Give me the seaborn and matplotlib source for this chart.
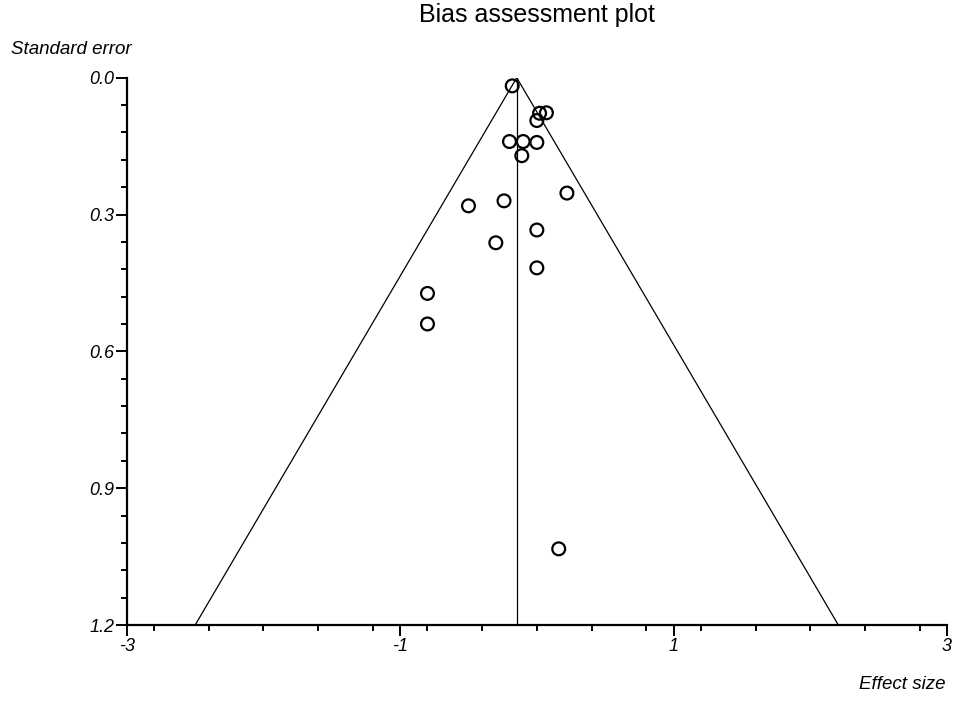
import numpy as np
import pandas as pd
import seaborn as sns
import matplotlib.pyplot as plt
from matplotlib.ticker import MultipleLocator, FixedLocator, FormatStrFormatter

# data
effect_size = [-0.18, 0.02, 0.07, 0.0, -0.20, -0.10, 0.0, -0.11, 0.22, -0.50,
               -0.24, 0.0, -0.30, 0.0, -0.80, -0.80, 0.16]
std_error = [0.018, 0.078, 0.077, 0.094, 0.140, 0.140, 0.142, 0.171, 0.253, 0.281,
             0.270, 0.334, 0.362, 0.417, 0.473, 0.540, 1.033]
pooled = -0.147
se_max = 1.2

df = pd.DataFrame({'effect': effect_size, 'se': std_error})

sns.set_style('ticks', {'axes.edgecolor': 'black', 'text.color': 'black',
                        'xtick.color': 'black', 'ytick.color': 'black'})
plt.rcParams['font.family'] = ['Liberation Sans', 'DejaVu Sans']
plt.rcParams['axes.unicode_minus'] = False

fig = plt.figure(figsize=(9.56, 7.01), dpi=100)
ax = fig.add_axes([0.1325, 0.1084, 0.8581, 0.7808])

# funnel (95% limits) and pooled estimate
ax.plot([pooled - 1.96 * se_max, pooled, pooled + 1.96 * se_max], [se_max, 0, se_max],
        color='black', lw=0.9, zorder=1)
ax.plot([pooled, pooled], [0, se_max], color='black', lw=0.9, zorder=1)

sns.scatterplot(data=df, x='effect', y='se', ax=ax, marker='o', s=85,
                facecolor='none', edgecolor='black', linewidth=1.6, zorder=3)

ax.set_xlim(-3, 3)
ax.set_ylim(1.2, 0)
ax.xaxis.set_major_locator(FixedLocator([-3, -1, 1, 3]))
ax.xaxis.set_minor_locator(MultipleLocator(0.4))
ax.yaxis.set_major_locator(MultipleLocator(0.3))
ax.yaxis.set_minor_locator(MultipleLocator(0.06))
ax.yaxis.set_major_formatter(FormatStrFormatter('%.1f'))
ax.set_xlabel('')
ax.set_ylabel('')

sns.despine(ax=ax)
for s in ['left', 'bottom']:
    ax.spines[s].set_linewidth(1.6)
ax.tick_params(which='major', length=8, width=1.4, labelsize=13, pad=1,
               colors='black')
ax.tick_params(which='minor', length=4.5, width=1.4, colors='black')
for lab in ax.get_xticklabels() + ax.get_yticklabels():
    lab.set_fontstyle('italic')

fig.text(0.5617, 0.978, 'Bias assessment plot', ha='center', va='center',
         fontsize=18, color='black')
fig.text(0.0115, 0.929, 'Standard error', ha='left', va='center', fontsize=13.5,
         style='italic', color='black')
fig.text(0.9885, 0.024, 'Effect size', ha='right', va='center', fontsize=13.5,
         style='italic', color='black')

fig.savefig('out.png', dpi=100)
